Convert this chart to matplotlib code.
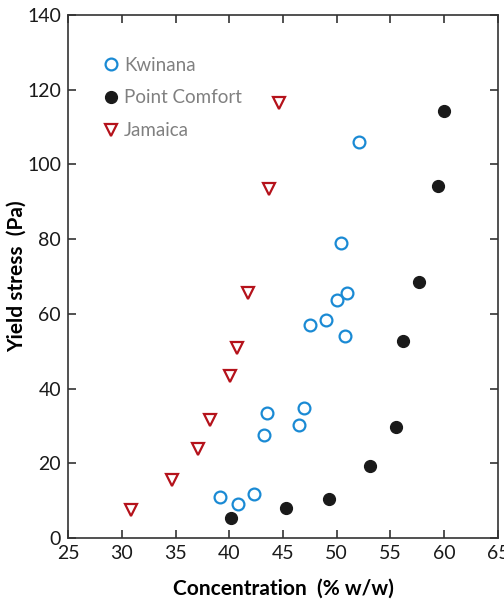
import matplotlib
matplotlib.use('Agg')
import matplotlib.pyplot as plt

# values
kw_x = [39.1, 40.8, 42.3, 43.2, 43.5, 46.5, 47.0, 47.5, 49.0, 50.0, 50.4, 51.0, 50.8, 52.1]
kw_y = [11.0, 9.1, 11.8, 27.6, 33.5, 30.2, 34.8, 57.0, 58.4, 63.7, 79.0, 65.6, 54.1, 106.0]

pc_x = [40.2, 45.3, 49.3, 53.1, 55.5, 56.2, 57.7, 59.4, 60.0]
pc_y = [5.4, 8.0, 10.4, 19.3, 29.7, 52.7, 68.5, 94.2, 114.3]

ja_x = [30.9, 34.7, 37.1, 38.2, 40.1, 40.7, 41.7, 43.7, 44.6]
ja_y = [7.5, 15.5, 23.8, 31.6, 43.4, 50.9, 65.6, 93.4, 116.4]

xticks = [25, 30, 35, 40, 45, 50, 55, 60, 65]
yticks = [0, 20, 40, 60, 80, 100, 120, 140]

plt.rcParams['font.family'] = ['Lato', 'DejaVu Sans']

fig = plt.figure(figsize=(5.04, 6.03), dpi=100)
ax = fig.add_axes([0.135, 0.108, 0.853, 0.867])

blue = '#1a8ad4'
red = '#b5121b'
ax.plot(kw_x, kw_y, 'o', ms=8.5, mfc='none', mec=blue, mew=1.6, label='Kwinana')
ax.plot(pc_x, pc_y, 'o', ms=8.5, mfc='#1a1a1a', mec='#1a1a1a', label='Point Comfort')
ax.plot(ja_x, ja_y, 'v', ms=9, mfc='none', mec=red, mew=1.6, label='Jamaica')

ax.set_xlim(25, 65)
ax.set_ylim(0, 140)
ax.set_xticks(xticks)
ax.set_yticks(yticks)
ax.tick_params(direction='in', top=True, right=True, length=6, width=1.2,
               color='#333333', labelsize=14, labelcolor='#1a1a1a', pad=5)
for s in ax.spines.values():
    s.set_color('#333333')
    s.set_linewidth(1.2)

ax.set_xlabel('Concentration  (% w/w)', fontsize=15, fontweight='bold', labelpad=12)
ax.set_ylabel('Yield stress  (Pa)', fontsize=15, fontweight='bold', labelpad=0)

leg = ax.legend(loc='upper left', bbox_to_anchor=(0.06, 0.935), frameon=False,
                fontsize=13.5, handletextpad=0.2, labelspacing=0.85, handlelength=1.0,
                borderaxespad=0)
for t in leg.get_texts():
    t.set_color('#808080')

fig.savefig('out.png', dpi=100)
